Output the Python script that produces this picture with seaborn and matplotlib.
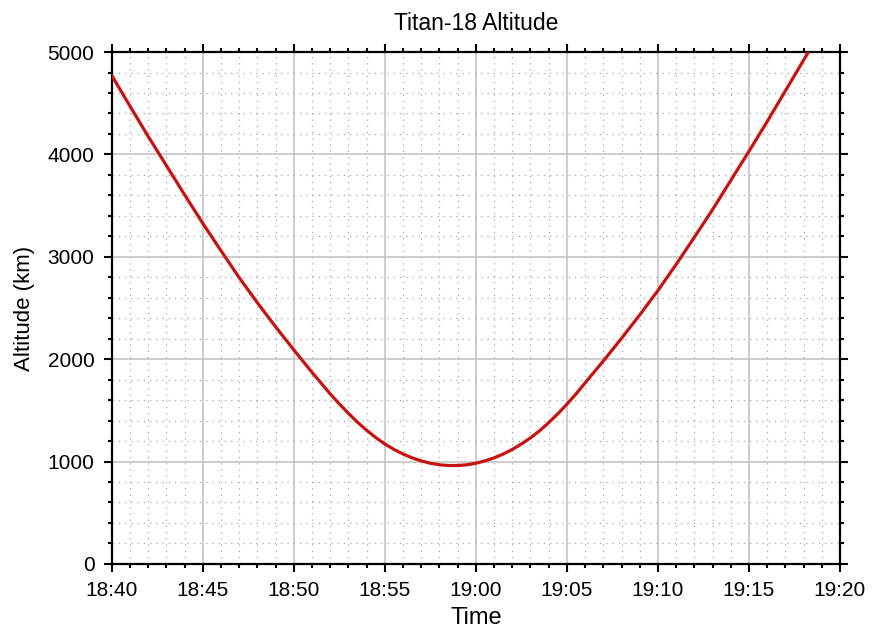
import matplotlib
matplotlib.use("Agg")
import matplotlib.pyplot as plt
import matplotlib.dates as mdates
from matplotlib.ticker import MultipleLocator
import seaborn as sns
import pandas as pd

# ---- data ----
times = ["18:40:00", "18:41:00", "18:42:00", "18:43:00", "18:44:00", "18:45:00", "18:46:00",
         "18:47:00", "18:48:00", "18:49:00", "18:50:00", "18:51:00", "18:52:00", "18:52:30",
         "18:53:00", "18:53:30", "18:54:00", "18:54:30", "18:55:00", "18:55:30", "18:56:00",
         "18:56:30", "18:57:00", "18:57:30", "18:58:00", "18:58:30", "18:59:00", "18:59:30",
         "19:00:00", "19:00:30", "19:01:00", "19:01:30", "19:02:00", "19:02:30", "19:03:00",
         "19:03:30", "19:04:00", "19:04:30", "19:05:00", "19:05:30", "19:06:00", "19:07:00",
         "19:08:00", "19:09:00", "19:10:00", "19:11:00", "19:12:00", "19:13:00", "19:14:00",
         "19:15:00", "19:16:00", "19:17:00", "19:18:00", "19:19:00"]
altitude_km = [4770, 4470, 4175, 3890, 3605, 3325, 3058,
               2795, 2550, 2315, 2090, 1870, 1660, 1562,
               1470, 1383, 1305, 1234, 1171, 1118, 1073,
               1036, 1006, 983, 968, 961, 961, 968,
               983, 1006, 1036, 1073, 1118, 1171, 1231,
               1300, 1380, 1466, 1560, 1660, 1768, 1982,
               2203, 2432, 2670, 2925, 3190, 3460, 3745,
               4030, 4320, 4620, 4920, 5220]
x_ticks = ["18:40", "18:45", "18:50", "18:55", "19:00", "19:05", "19:10", "19:15", "19:20"]
y_ticks = [0, 1000, 2000, 3000, 4000, 5000]
title = "Titan-18 Altitude"
x_label = "Time"
y_label = "Altitude (km)"

day = "2006-10-25 "
df = pd.DataFrame({"Time": pd.to_datetime([day + t for t in times]),
                   "Altitude": altitude_km})

sns.set_style("white")
plt.rcParams["font.family"] = ["Liberation Sans", "DejaVu Sans"]
plt.rcParams["text.color"] = "black"
plt.rcParams["axes.labelcolor"] = "black"

fig = plt.figure(figsize=(8.74, 6.35), dpi=100)
ax = fig.add_axes([0.128, 0.112, 0.833, 0.806])

sns.lineplot(data=df, x="Time", y="Altitude", ax=ax, color="#c81212", linewidth=2.3, zorder=5)

tick_dt = pd.to_datetime([day + t for t in x_ticks])
ax.set_xlim(tick_dt[0], tick_dt[-1])
ax.set_ylim(y_ticks[0], y_ticks[-1])
ax.set_xticks(tick_dt)
ax.xaxis.set_major_formatter(mdates.DateFormatter("%H:%M"))
ax.xaxis.set_minor_locator(mdates.MinuteLocator(interval=1))
ax.set_yticks(y_ticks)
ax.yaxis.set_minor_locator(MultipleLocator(200))

ax.grid(which="major", color="#c0c0c0", linewidth=1.1, linestyle="-")
ax.grid(which="minor", color="#a8a8a8", linewidth=0.9, linestyle=(0, (1, 4)))
ax.set_axisbelow(True)

for s in ax.spines.values():
    s.set_visible(True)
    s.set_color("black")
    s.set_linewidth(1.6)

ax.tick_params(which="both", direction="out", top=True, right=True, bottom=True, left=True,
               color="black", width=1.5)
ax.tick_params(which="major", length=5.5, labelsize=15, labelcolor="black", pad=7)
ax.tick_params(which="minor", length=3)

ax.set_xlabel(x_label, fontsize=17, labelpad=5)
ax.set_ylabel(y_label, fontsize=16, labelpad=9)
ax.set_title(title, fontsize=16.5, pad=16)

fig.savefig("out.png", dpi=100, facecolor="white")
